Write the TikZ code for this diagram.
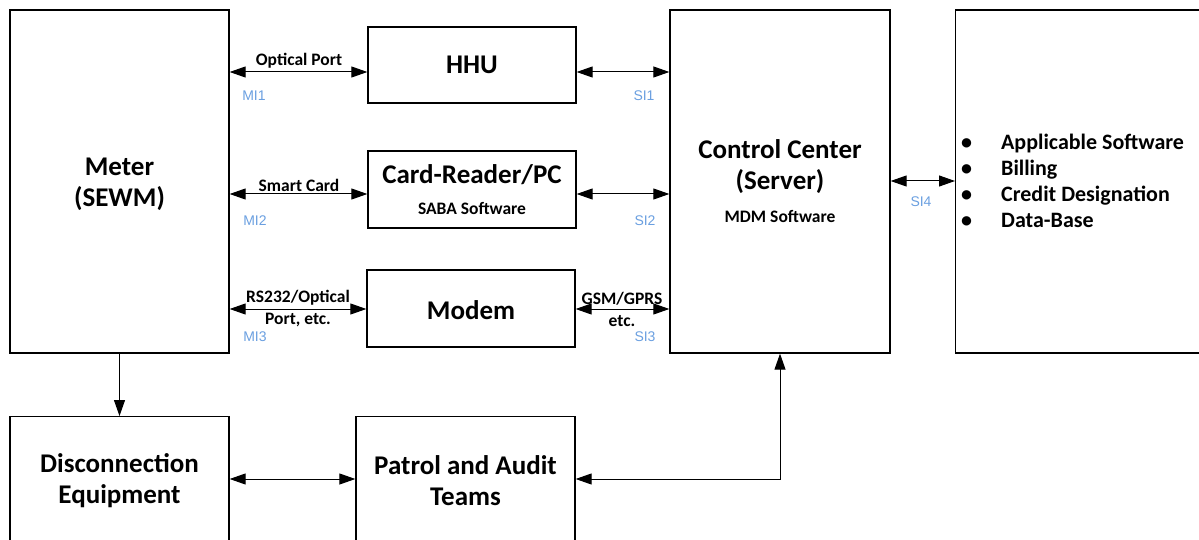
\documentclass[tikz,border=0pt]{standalone}
\usepackage{fontspec}
\setmainfont{Carlito}
\newfontfamily\lblfont{Liberation Sans}
\usetikzlibrary{arrows.meta}
\definecolor{lblblue}{HTML}{6A9FE0}
\begin{document}
\begin{tikzpicture}[x=1pt,y=-1pt,
  box/.style={draw, line width=1.3pt, inner sep=0pt},
  tip/.tip={Triangle[length=16pt,width=11pt]},
  conn/.style={line width=1pt, tip-tip},
  oneway/.style={line width=1pt, -tip},
  big/.style={font=\fontsize{27}{31}\selectfont\bfseries, align=center},
  small/.style={font=\fontsize{17.5}{22}\selectfont\bfseries, align=center},
  blue/.style={font=\fontsize{14}{16}\lblfont, text=lblblue, inner sep=0pt}]
\useasboundingbox (0,0) rectangle (1199,540);
% boxes
\node[box, minimum width=219pt, minimum height=343pt] (meter) at (119.5,181.5) {};
\node[big] (metert) at (119.5,184) {Meter\\(SEWM)};
\node[box, minimum width=208pt, minimum height=76pt] (hhu) at (472,65) {};
\node[big] (hhut) at (472,65) {HHU};
\node[box, minimum width=208pt, minimum height=77pt] (card) at (472,189.5) {};
\node[big] (cardt) at (472,175) {Card-Reader/PC};
\node[small] (sabat) at (472,208.5) {SABA Software};
\node[box, minimum width=208pt, minimum height=77pt] (modem) at (471,308.5) {};
\node[big] (modemt) at (471,310) {Modem};
\node[box, minimum width=220pt, minimum height=343pt] (cc) at (780,181.5) {};
\node[big] (cct) at (780,166.5) {Control Center\\(Server)};
\node[small] (mdmt) at (780,216) {MDM Software};
\node[box, minimum width=260pt, minimum height=343pt, anchor=west] (app) at (955,181.5) {};
\node[font=\fontsize{22}{26}\selectfont\bfseries, align=left, anchor=west, inner sep=0pt] (applist) at (961,183) {%
  \begin{tabular}{@{}l@{\hspace{29pt}}l@{}}
  \textbullet & Applicable Software\\
  \textbullet & Billing\\
  \textbullet & Credit Designation\\
  \textbullet & Data-Base
  \end{tabular}};
\node[box, minimum width=219pt, minimum height=140pt, anchor=north] (disc) at (119.5,416) {};
\node[big] (disct) at (119.5,481) {Disconnection\\Equipment};
\node[box, minimum width=219pt, minimum height=140pt, anchor=north] (patrol) at (465.5,416) {};
\node[big] (patrolt) at (465.5,481) {Patrol and Audit\\Teams};
% connectors
\draw[conn] (meter.east |- 0,72) -- (hhu.west |- 0,72);
\draw[conn] (hhu.east |- 0,72) -- (cc.west |- 0,72);
\draw[conn] (meter.east |- 0,194) -- (card.west |- 0,194);
\draw[conn] (card.east |- 0,194) -- (cc.west |- 0,194);
\draw[conn] (meter.east |- 0,309) -- (modem.west |- 0,309);
\draw[conn] (modem.east |- 0,309) -- (cc.west |- 0,309);
\draw[conn] (cc.east |- 0,181) -- (app.west |- 0,181);
\draw[oneway] (meter.south) -- (disc.north);
\draw[conn] (disc.east |- 0,479) -- (patrol.west |- 0,479);
\draw[conn] (patrol.east |- 0,479) -| (cc.south);
% labels
\node[small] (l1) at (299,61) {Optical Port};
\node[small] (l2) at (299,185) {Smart Card};
\node[small] (l3) at (298,309) {RS232/Optical\\Port, etc.};
\node[small] (l4) at (622,309) {GSM/GPRS\\etc.};
\node[blue] (mi1) at (254,96) {MI1};
\node[blue] (mi2) at (255,221) {MI2};
\node[blue] (mi3) at (255,337) {MI3};
\node[blue] (si1) at (644,96) {SI1};
\node[blue] (si2) at (645,221) {SI2};
\node[blue] (si3) at (645,337) {SI3};
\node[blue] (si4) at (921,202) {SI4};
\end{tikzpicture}
\end{document}
